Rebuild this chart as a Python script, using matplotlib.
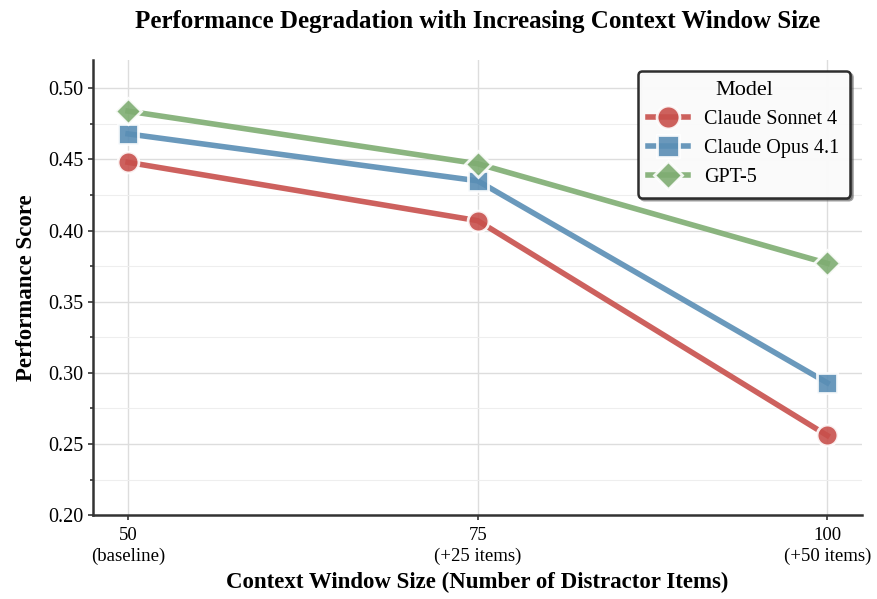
import matplotlib
matplotlib.use('Agg')
import matplotlib.pyplot as plt
from matplotlib.ticker import MultipleLocator

plt.rcParams['font.family'] = ['Liberation Serif', 'DejaVu Serif']

sizes = [50, 75, 100]
tick_labels = ['50\n(baseline)', '75\n(+25 items)', '100\n(+50 items)']
models = ['Claude Sonnet 4', 'Claude Opus 4.1', 'GPT-5']
sonnet = [0.448, 0.407, 0.256]
opus = [0.468, 0.435, 0.293]
gpt5 = [0.484, 0.447, 0.377]

colors = ['#C8504C', '#5A8EB5', '#7FAD72']
markers = ['o', 's', 'D']

fig, ax = plt.subplots(figsize=(8.78, 5.99), dpi=100)
for vals, name, c, m in zip([sonnet, opus, gpt5], models, colors, markers):
    ax.plot(sizes, vals, color=c, marker=m, lw=4, ms=15 if m != 'D' else 13,
            markeredgecolor='white', markeredgewidth=2, alpha=0.9, label=name)

ax.set_xlim(47.5, 102.5)
ax.set_ylim(0.2, 0.52)
ax.set_xticks(sizes)
ax.set_xticklabels(tick_labels, fontsize=13.5, linespacing=1.3)
ax.yaxis.set_major_locator(MultipleLocator(0.05))
ax.yaxis.set_minor_locator(MultipleLocator(0.025))
ax.yaxis.set_major_formatter(plt.FormatStrFormatter('%.2f'))
ax.tick_params(axis='y', labelsize=14.5)
ax.tick_params(axis='x', pad=5)
ax.grid(True, which='major', color='#dddddd', lw=1)
ax.grid(True, which='minor', axis='y', color='#eeeeee', lw=0.8)
ax.set_axisbelow(True)
for s in ['top', 'right']:
    ax.spines[s].set_visible(False)
for s in ['left', 'bottom']:
    ax.spines[s].set_linewidth(1.8)
    ax.spines[s].set_color('#333333')
ax.tick_params(which='both', width=1.2, color='#333333')

ax.set_title('Performance Degradation with Increasing Context Window Size',
             fontsize=18, fontweight='bold', pad=23)
ax.set_xlabel('Context Window Size (Number of Distractor Items)', fontsize=16.5,
              fontweight='bold', labelpad=5)
ax.set_ylabel('Performance Score', fontsize=16.5, fontweight='bold', labelpad=8)

leg = ax.legend(title='Model', loc='upper right', fontsize=14.5, title_fontsize=16,
                frameon=True, shadow=True, fancybox=True, framealpha=0.95,
                bbox_to_anchor=(0.997, 0.998), borderpad=0.5, labelspacing=0.5,
                markerscale=1.1)
leg.get_frame().set_edgecolor('#222222')
leg.get_frame().set_linewidth(1.8)

fig.subplots_adjust(left=0.106, right=0.982, top=0.9, bottom=0.14)
fig.savefig('out.png')
